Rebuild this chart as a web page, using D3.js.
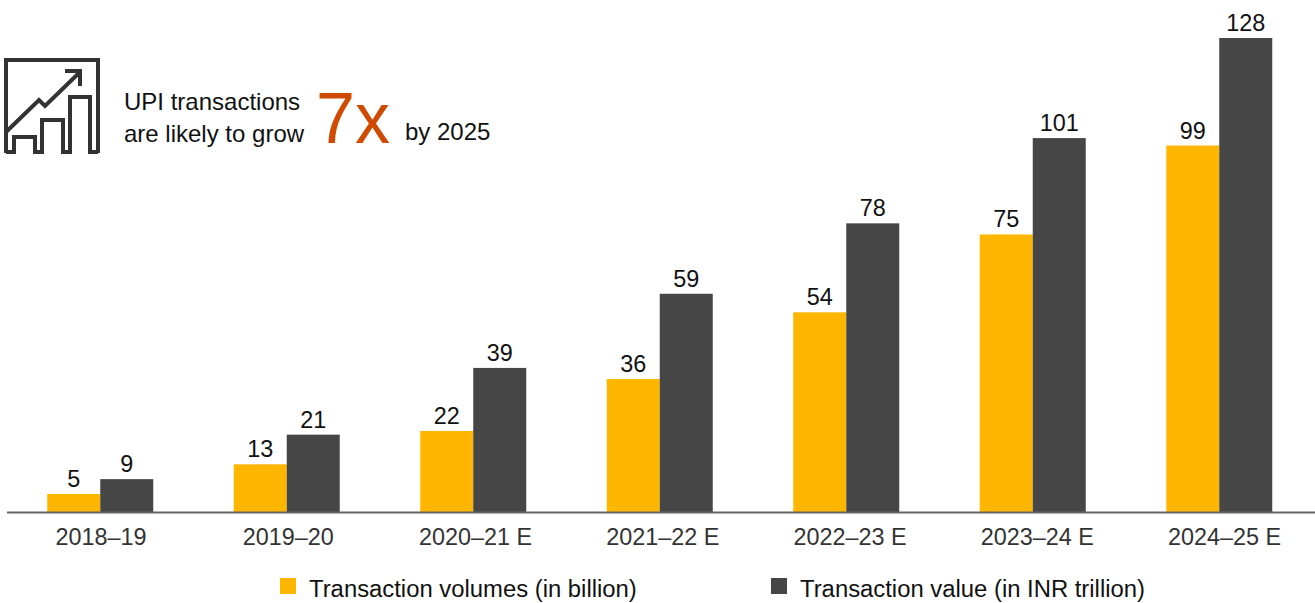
<!DOCTYPE html>
<html>
<head>
<meta charset="utf-8">
<script src="https://cdnjs.cloudflare.com/ajax/libs/d3/7.8.5/d3.min.js"></script>
<style>
  html, body { margin: 0; padding: 0; background: #fff; overflow: hidden; }
  text { font-family: "Liberation Sans", Arial, sans-serif; fill: #111; }
</style>
</head>
<body>
<div id="chart"></div>
<script>
const years = ["2018–19", "2019–20", "2020–21 E", "2021–22 E", "2022–23 E", "2023–24 E", "2024–25 E"];
const seriesNames = ["Transaction volumes (in billion)", "Transaction value (in INR trillion)"];
const volumes = [5, 13, 22, 36, 54, 75, 99];
const values = [9, 21, 39, 59, 78, 101, 128];
const seriesColors = ["#ffb600", "#464646"];

const width = 1315;
const height = 603;
const baseline = 512.5;

const svg = d3.select("#chart")
  .append("svg")
  .attr("width", width)
  .attr("height", height);

const x = d3.scaleBand()
  .domain(years)
  .range([7, 1312.5]);

const xInner = d3.scaleBand()
  .domain(d3.range(2))
  .range([x.bandwidth() / 2 - 53, x.bandwidth() / 2 + 53]);

// tick labels sit on a slightly wider spacing than the bars
const xLabel = d3.scalePoint()
  .domain(years)
  .range([101, 1224.5]);

const y = d3.scaleLinear()
  .domain([0, 128])
  .range([baseline, 38]);

// Bars and their labels
[volumes, values].forEach((series, s) => {
  const g = svg.append("g");

  g.selectAll("rect")
    .data(series)
    .join("rect")
    .attr("x", (d, i) => x(years[i]) + xInner(s))
    .attr("y", d => y(d))
    .attr("width", xInner.bandwidth())
    .attr("height", d => baseline - y(d))
    .attr("fill", seriesColors[s]);

  g.selectAll("text")
    .data(series)
    .join("text")
    .attr("x", (d, i) => x(years[i]) + xInner(s) + xInner.bandwidth() / 2)
    .attr("y", d => y(d) - 7)
    .attr("text-anchor", "middle")
    .attr("font-size", 23.4)
    .text(d => d);
});

// X axis
const axis = svg.append("g")
  .attr("transform", `translate(0,${baseline})`)
  .call(d3.axisBottom(x).tickSize(0).tickPadding(16));
axis.select(".domain")
  .attr("d", `M7,0H${width}`)
  .attr("stroke", "#666")
  .attr("stroke-width", 2);
axis.selectAll("text")
  .attr("font-size", 23.4)
  .attr("dx", d => xLabel(d) - (x(d) + x.bandwidth() / 2))
  .style("font-family", "'Liberation Sans', Arial, sans-serif")
  .style("fill", "#333");

// Legend
const legendX = [280, 771];
seriesNames.forEach((name, i) => {
  svg.append("rect")
    .attr("x", legendX[i])
    .attr("y", 578)
    .attr("width", 16)
    .attr("height", 16)
    .attr("fill", seriesColors[i]);
  svg.append("text")
    .attr("x", legendX[i] + 29)
    .attr("y", 597)
    .attr("font-size", 23.85)
    .text(name);
});

// Callout icon
const icon = svg.append("g")
  .attr("fill", "none")
  .attr("stroke", "#333")
  .attr("stroke-width", 4);
icon.append("path").attr("d", "M6,153V60H98V153");
icon.append("path").attr("d", "M6,152H14V137H35V152H42V120H63V152H70V97H90V152H98");
icon.append("path").attr("d", "M6,132L39,100L45,106L80,72");
icon.append("path").attr("d", "M65,71H80V86");

// Callout text
svg.append("text").attr("x", 124).attr("y", 110).attr("font-size", 24).text("UPI transactions");
svg.append("text").attr("x", 124).attr("y", 142).attr("font-size", 24).text("are likely to grow");
svg.append("text").attr("x", 316).attr("y", 143).attr("font-size", 73)
  .attr("textLength", 74).attr("lengthAdjust", "spacingAndGlyphs")
  .style("fill", "#d04a02").text("7x");
svg.append("text").attr("x", 405).attr("y", 140).attr("font-size", 24).text("by 2025");
</script>
</body>
</html>
